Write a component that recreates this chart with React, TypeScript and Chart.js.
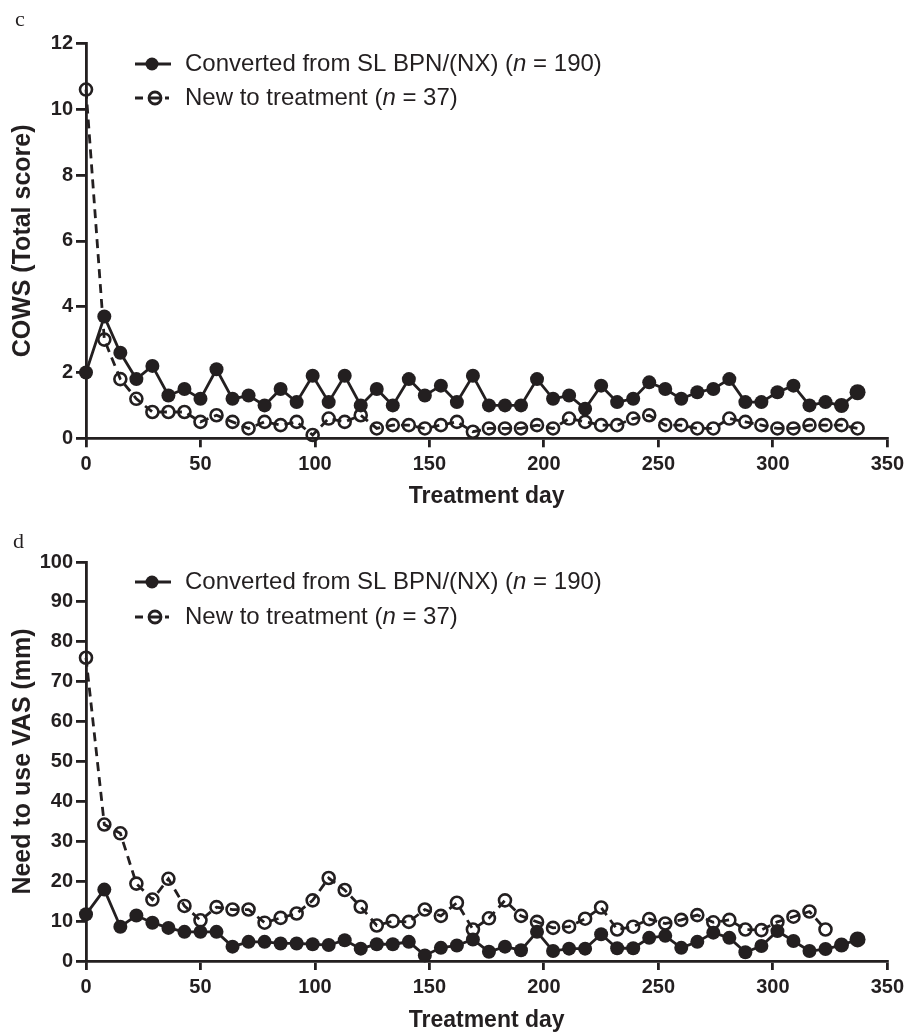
import React, { useEffect, useRef } from "react";
import { Chart, registerables } from "chart.js";

Chart.register(...registerables);

const INK = "#231f20";
const SANS = '"Liberation Sans", Arial, sans-serif';
const SERIF = '"Liberation Serif", "Times New Roman", serif';

const treatmentDays = [
  0, 8, 15, 22, 29, 36, 43, 50, 57, 64, 71, 78, 85, 92, 99, 106, 113, 120, 127, 134,
  141, 148, 155, 162, 169, 176, 183, 190, 197, 204, 211, 218, 225, 232, 239, 246, 253,
  260, 267, 274, 281, 288, 295, 302, 309, 316, 323, 330, 337,
];

const xTicks = [0, 50, 100, 150, 200, 250, 300, 350];

// Panel c: COWS total score
const cowsConverted = [
  2.0, 3.7, 2.6, 1.8, 2.2, 1.3, 1.5, 1.2, 2.1, 1.2, 1.3, 1.0, 1.5, 1.1, 1.9, 1.1, 1.9, 1.0,
  1.5, 1.0, 1.8, 1.3, 1.6, 1.1, 1.9, 1.0, 1.0, 1.0, 1.8, 1.2, 1.3, 0.9, 1.6, 1.1, 1.2, 1.7,
  1.5, 1.2, 1.4, 1.5, 1.8, 1.1, 1.1, 1.4, 1.6, 1.0, 1.1, 1.0, 1.4,
];
const cowsNew = [
  10.6, 3.0, 1.8, 1.2, 0.8, 0.8, 0.8, 0.5, 0.7, 0.5, 0.3, 0.5, 0.4, 0.5, 0.1, 0.6, 0.5, 0.7,
  0.3, 0.4, 0.4, 0.3, 0.4, 0.5, 0.2, 0.3, 0.3, 0.3, 0.4, 0.3, 0.6, 0.5, 0.4, 0.4, 0.6, 0.7,
  0.4, 0.4, 0.3, 0.3, 0.6, 0.5, 0.4, 0.3, 0.3, 0.4, 0.4, 0.4, 0.3,
];
const cowsTicks = [0, 2, 4, 6, 8, 10, 12];

// Panel d: Need to use VAS (mm)
const vasConverted = [
  11.7, 17.9, 8.6, 11.4, 9.6, 8.3, 7.3, 7.3, 7.3, 3.6, 4.8, 4.8, 4.4, 4.4, 4.2, 4.0, 5.2, 3.1,
  4.2, 4.2, 4.8, 1.4, 3.3, 3.9, 5.4, 2.3, 3.6, 2.7, 7.3, 2.5, 3.1, 3.1, 6.7, 3.2, 3.2, 5.8,
  6.3, 3.3, 4.8, 7.1, 5.8, 2.2, 3.75, 7.5, 5.0, 2.5, 3.0, 4.0, 5.4,
];
const vasNew = [
  76.0, 34.2, 32.0, 19.4, 15.4, 20.6, 13.8, 10.2, 13.5, 12.9, 12.9, 9.6, 10.8, 11.9, 15.2,
  20.8, 17.8, 13.6, 8.9, 10.0, 9.8, 12.9, 11.3, 14.6, 7.9, 10.7, 15.2, 11.3, 9.8, 8.3, 8.6,
  10.6, 13.4, 7.9, 8.6, 10.5, 9.4, 10.3, 11.5, 9.7, 10.3, 7.9, 7.75, 9.8, 11.1, 12.4, 7.9,
  null, null,
];
const vasTicks = [0, 10, 20, 30, 40, 50, 60, 70, 80, 90, 100];

const legendConverted = ["Converted from SL BPN/(NX) (", "n", " = 190)"];
const legendNew = ["New to treatment (", "n", " = 37)"];

type Panel = {
  letter: string;
  letterX: number;
  letterY: number;
  yTitle: string;
  converted: (number | null)[];
  fresh: (number | null)[];
  yTicks: number[];
  canvasH: number;
  areaTop: number;
  areaBottom: number;
  titlePadBottom: number;
  legendY: [number, number];
};

const panels: Panel[] = [
  {
    letter: "c",
    letterX: 15,
    letterY: 26,
    yTitle: "COWS (Total score)",
    converted: cowsConverted,
    fresh: cowsNew,
    yTicks: cowsTicks,
    canvasH: 520,
    areaTop: 43.5,
    areaBottom: 438.3,
    titlePadBottom: 10,
    legendY: [64, 98],
  },
  {
    letter: "d",
    letterX: 13,
    letterY: 28,
    yTitle: "Need to use VAS (mm)",
    converted: vasConverted,
    fresh: vasNew,
    yTicks: vasTicks,
    canvasH: 514,
    areaTop: 42,
    areaBottom: 441,
    titlePadBottom: 0,
    legendY: [62, 97],
  },
];

function drawLegendText(ctx: CanvasRenderingContext2D, parts: string[], x: number, y: number) {
  const normal = `24px ${SANS}`;
  const italic = `italic 24px ${SANS}`;
  let cx = x;
  parts.forEach((p, i) => {
    ctx.font = i === 1 ? italic : normal;
    ctx.fillText(p, cx, y);
    cx += ctx.measureText(p).width;
  });
}

function makeOverlay(panel: Panel) {
  return {
    id: "overlay-" + panel.letter,
    afterDraw(chart: Chart) {
      const ctx = chart.ctx;
      ctx.save();
      ctx.fillStyle = INK;
      ctx.strokeStyle = INK;
      ctx.textBaseline = "alphabetic";
      ctx.font = `22px ${SERIF}`;
      ctx.fillText(panel.letter, panel.letterX, panel.letterY);

      const [y1, y2] = panel.legendY;
      // legend row 1: solid line + filled dot
      ctx.lineWidth = 2.8;
      ctx.setLineDash([]);
      ctx.beginPath();
      ctx.moveTo(135, y1);
      ctx.lineTo(171, y1);
      ctx.stroke();
      ctx.beginPath();
      ctx.arc(152, y1, 6.5, 0, Math.PI * 2);
      ctx.fill();
      // legend row 2: dashed line + open circle
      ctx.beginPath();
      ctx.moveTo(135, y2);
      ctx.lineTo(143, y2);
      ctx.moveTo(150, y2);
      ctx.lineTo(160, y2);
      ctx.moveTo(165, y2);
      ctx.lineTo(169, y2);
      ctx.stroke();
      ctx.beginPath();
      ctx.arc(155, y2, 6, 0, Math.PI * 2);
      ctx.stroke();

      ctx.textBaseline = "middle";
      drawLegendText(ctx, legendConverted, 185, y1);
      drawLegendText(ctx, legendNew, 185, y2);
      ctx.restore();
    },
  };
}

function PanelChart({ panel, top }: { panel: Panel; top: number }) {
  const ref = useRef<HTMLCanvasElement | null>(null);
  useEffect(() => {
    if (!ref.current) return;
    const yMax = panel.yTicks[panel.yTicks.length - 1];
    const n = treatmentDays.length;
    const chart = new Chart(ref.current, {
      type: "line",
      data: {
        datasets: [
          {
            label: "Converted from SL BPN/(NX) (n = 190)",
            data: treatmentDays.map((d, i) => ({ x: d, y: panel.converted[i] })),
            borderColor: INK,
            backgroundColor: INK,
            borderWidth: 2.8,
            pointRadius: (c: any) => (c.dataIndex === n - 1 ? 8 : c.dataIndex === n - 2 ? 7.5 : 7),
            pointBackgroundColor: INK,
            pointBorderWidth: 0,
            tension: 0,
            clip: false,
          } as any,
          {
            label: "New to treatment (n = 37)",
            data: treatmentDays.map((d, i) => ({ x: d, y: panel.fresh[i] })),
            borderColor: INK,
            backgroundColor: "rgba(0,0,0,0)",
            borderWidth: 2.8,
            borderDash: [9, 6],
            pointRadius: 6,
            pointBackgroundColor: "rgba(0,0,0,0)",
            pointBorderColor: INK,
            pointBorderWidth: 2.6,
            tension: 0,
            spanGaps: false,
            clip: false,
          } as any,
        ],
      },
      options: {
        animation: false,
        responsive: false,
        maintainAspectRatio: false,
        events: [],
        layout: { padding: { top: panel.areaTop, right: 18, left: 0, bottom: 0 } },
        plugins: { legend: { display: false }, tooltip: { enabled: false } },
        scales: {
          x: {
            type: "linear",
            min: 0,
            max: 350,
            afterBuildTicks: (s: any) => {
              s.ticks = xTicks.map((v) => ({ value: v }));
            },
            ticks: {
              color: INK,
              font: { family: SANS, size: 20, weight: "bold" },
              padding: 5,
              maxRotation: 0,
            },
            grid: {
              display: true,
              drawOnChartArea: false,
              drawTicks: true,
              tickLength: 9,
              color: INK,
              lineWidth: 2.8,
            },
            border: { display: true, color: INK, width: 2.8 },
            title: {
              display: true,
              text: "Treatment day",
              color: INK,
              font: { family: SANS, size: 23, weight: "bold" },
              padding: { top: 0, bottom: panel.titlePadBottom },
            },
            afterFit: (s: any) => {
              s.height = panel.canvasH - panel.areaBottom;
            },
          },
          y: {
            type: "linear",
            min: 0,
            max: yMax,
            afterBuildTicks: (s: any) => {
              s.ticks = panel.yTicks.map((v) => ({ value: v }));
            },
            ticks: {
              color: INK,
              font: { family: SANS, size: 20, weight: "bold" },
              padding: 3,
            },
            grid: {
              display: true,
              drawOnChartArea: false,
              drawTicks: true,
              tickLength: 10,
              color: INK,
              lineWidth: 2.8,
            },
            border: { display: true, color: INK, width: 2.8 },
            title: {
              display: true,
              text: panel.yTitle,
              color: INK,
              font: { family: SANS, size: 25, weight: "bold" },
              padding: { top: 8, bottom: 0 },
            },
            afterFit: (s: any) => {
              s.width = 86;
            },
          },
        },
      } as any,
      plugins: [makeOverlay(panel)],
    });
    return () => chart.destroy();
  }, [panel]);
  return (
    <canvas
      ref={ref}
      width={909}
      height={panel.canvasH}
      style={{ position: "absolute", left: 0, top, width: 909, height: panel.canvasH }}
    />
  );
}

export default function App() {
  return (
    <div style={{ position: "absolute", left: 0, top: 0, width: 909, height: 1034, background: "#fff" }}>
      <PanelChart panel={panels[0]} top={0} />
      <PanelChart panel={panels[1]} top={520} />
    </div>
  );
}
